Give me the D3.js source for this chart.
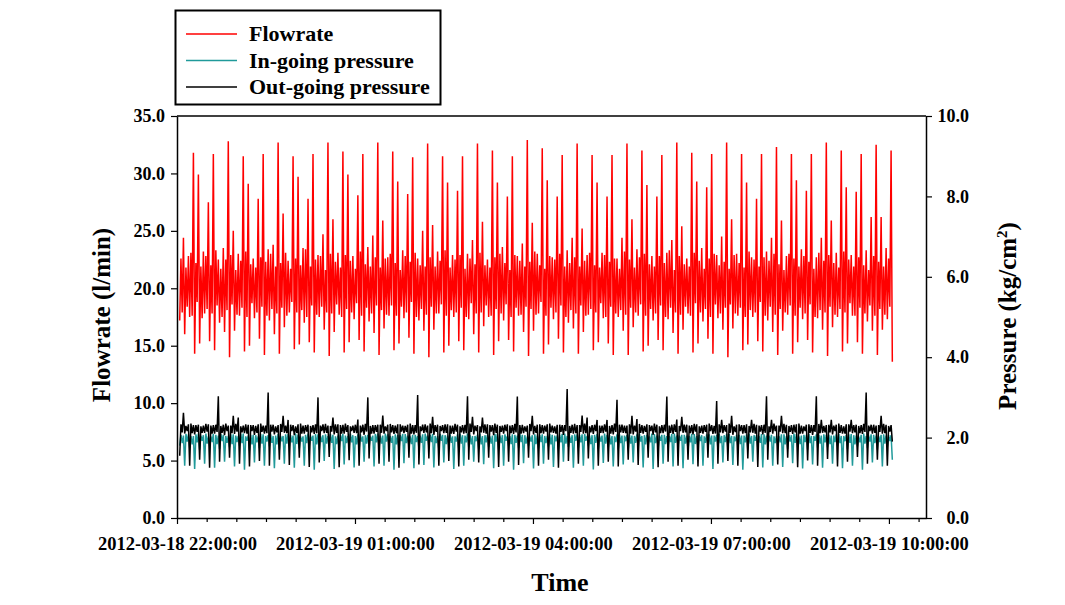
<!DOCTYPE html>
<html><head><meta charset="utf-8">
<script src="https://cdn.jsdelivr.net/npm/d3@7"></script>
<style>body{margin:0;background:#fff}svg{display:block}</style>
</head><body>
<svg id="chart" width="1065" height="605"></svg>
<script>
// ---------------- data ----------------
const startTime = "2012-03-18 22:02:44";
const stepSeconds = 75.6;
const xDomain = ["2012-03-18 22:00:00", "2012-03-19 10:37:30"];
const xTickLabels = ["2012-03-18 22:00:00", "2012-03-19 01:00:00", "2012-03-19 04:00:00", "2012-03-19 07:00:00", "2012-03-19 10:00:00"];
const flowTicks = [0, 5, 10, 15, 20, 25, 30, 35];
const pressureTicks = [0, 2, 4, 6, 8, 10];
const seriesNames = ["Flowrate", "In-going pressure", "Out-going pressure"];
const seriesColors = ["#ff0000", "#209a9a", "#000000"];

// pulse samples (low, peak, low, peak, ...)
const flowrate = [
  17.2,24.4,16.0,22.8,17.5,31.8,14.3,29.9,15.2,23.2,17.8,27.5,15.4,31.7,14.6,22.5,17.0,23.5,16.2,32.8,
  14.0,25.0,16.3,23.0,17.6,31.5,14.5,29.1,15.0,22.6,17.4,27.8,15.6,31.7,14.2,23.4,17.2,23.8,16.0,32.7,
  14.3,26.5,16.6,22.4,17.9,31.5,14.7,29.7,15.1,23.5,17.0,27.8,15.3,31.7,14.4,22.9,17.5,24.7,16.4,32.7,
  14.1,26.0,16.2,23.1,17.7,31.9,14.4,29.9,15.3,22.8,17.3,28.1,15.5,31.7,14.5,23.6,17.1,24.6,16.1,32.7,
  14.2,25.9,16.5,22.7,17.6,31.9,14.6,29.3,15.2,23.3,17.4,28.2,15.7,31.4,14.3,22.6,17.2,25.0,16.3,32.6,
  14.0,25.5,16.4,23.2,17.8,31.5,14.4,29.2,15.0,22.9,17.5,28.5,15.4,31.5,14.6,23.0,17.3,24.2,16.0,32.6,
  14.4,25.8,16.7,22.5,17.5,32.0,14.2,29.2,15.4,23.6,17.2,28.0,15.5,31.5,14.5,22.8,17.6,23.9,16.2,32.9,
  14.1,25.7,16.3,23.0,17.8,32.2,14.3,29.4,15.1,22.7,17.3,28.0,15.6,31.6,14.4,23.3,17.0,24.4,16.5,32.6,
  14.3,25.2,16.2,22.9,17.7,31.6,14.6,29.2,15.3,23.1,17.4,28.0,15.2,31.6,14.2,22.6,17.5,24.4,16.3,32.6,
  14.2,26.0,16.6,23.4,17.6,32.0,14.5,29.0,15.0,22.8,17.2,28.0,15.5,31.6,14.6,23.1,17.3,24.2,16.1,32.7,
  14.3,25.4,16.4,22.6,17.8,31.8,14.4,29.3,15.2,23.5,17.1,28.8,15.6,31.7,14.3,22.9,17.4,24.5,16.4,32.7,
  14.0,26.0,16.5,23.0,17.6,31.7,14.6,29.2,15.1,22.7,17.5,27.8,15.4,31.7,14.5,23.2,17.2,24.4,16.2,32.3,
  14.2,25.9,16.3,22.8,17.7,31.7,14.3,29.4,15.3,23.4,17.3,28.5,15.5,31.7,14.4,22.7,17.4,24.4,16.4,32.7,
  14.1,25.9,16.6,23.1,17.5,32.0,14.5,28.8,15.2,22.9,17.6,28.4,15.3,31.7,14.3,23.3,17.1,26.2,16.3,32.5,
  14.2,26.2,16.4,23.5,17.3,32.0,13.6
];
// in-between samples (two per pulse) forming the dense band
const flowBand = [
  22.6,17.9,21.8,18.4,23.1,17.6,22.2,18.8,21.9,17.4,22.8,18.2,22.0,17.8,23.3,18.5,21.7,17.5,22.5,18.1,
  22.9,18.6,21.6,17.7,22.4,18.3,23.2,17.5,22.1,18.7,21.8,17.9,22.7,18.4,22.3,17.6,23.0,18.2,21.9,17.8,
  22.2,18.3,23.1,17.6,21.7,18.8,22.6,17.9,22.0,18.1,23.4,17.5,21.9,18.5,22.5,17.7,22.8,18.4,21.6,17.9,
  23.0,17.8,22.3,18.6,21.8,17.5,22.9,18.2,22.4,17.9,21.7,18.7,23.2,17.6,22.1,18.3,21.9,17.8,22.7,18.5,
  21.8,18.1,22.6,17.7,23.0,18.5,22.2,17.6,21.6,18.4,22.8,17.9,22.3,18.8,23.1,17.5,22.0,18.2,21.9,17.7,
  22.7,18.4,21.9,17.8,22.4,18.6,23.3,17.6,21.8,18.1,22.5,17.9,22.9,18.3,21.7,17.5,22.6,18.7,22.1,17.8,
  23.1,17.9,22.0,18.5,21.8,17.6,22.7,18.2,23.0,17.8,22.2,18.6,21.6,17.5,22.9,18.3,22.4,17.7,21.9,18.4,
  22.3,18.2,23.2,17.7,22.0,18.8,21.7,17.6,22.8,18.3,22.5,17.9,23.0,18.5,21.9,17.5,22.2,18.1,22.7,17.8,
  21.9,18.5,22.4,17.6,23.1,18.2,22.0,17.9,21.8,18.7,22.9,17.5,22.3,18.4,22.6,17.8,21.7,18.1,23.2,17.7,
  22.5,18.3,21.8,17.9,22.7,18.6,23.0,17.6,22.1,18.2,21.9,17.8,22.8,18.5,22.2,17.5,23.3,18.3,21.6,17.9,
  22.8,17.7,22.1,18.4,21.9,17.6,23.1,18.7,22.4,17.9,21.7,18.2,22.6,17.5,23.0,18.6,22.0,17.8,22.3,18.3,
  21.7,18.6,22.9,17.8,22.2,18.3,21.8,17.5,23.2,18.1,22.5,17.9,21.9,18.8,22.7,17.6,22.4,18.4,23.0,17.7,
  22.1,18.2,21.6,17.9,23.0,18.5,22.6,17.6,21.9,18.3,22.8,17.8,22.3,18.6,21.7,17.5,23.1,18.1,22.4,17.9,
  22.9,18.4,22.2,17.7,21.8,18.2,23.2,17.9,22.5,18.7,21.9,17.6,22.7,18.3,22.0,17.8,21.6,18.5,22.8,17.6,
  22.3,18.2,21.9,17.7,22.6,18.4
];

const inPressure = [
  1.80,2.05,1.30,2.08,1.75,2.04,1.22,2.10,1.70,2.06,1.35,2.03,1.80,2.09,1.25,2.05,1.72,2.07,1.40,2.04,
  1.76,2.08,1.28,2.04,1.80,2.10,1.20,2.05,1.68,2.07,1.38,2.03,1.74,2.08,1.30,2.06,1.78,2.04,1.24,2.09,
  1.70,2.04,1.35,2.09,1.78,2.05,1.25,2.07,1.73,2.03,1.30,2.10,1.80,2.05,1.20,2.08,1.70,2.06,1.42,2.04,
  1.80,2.07,1.22,2.05,1.72,2.09,1.33,2.04,1.77,2.06,1.26,2.08,1.70,2.03,1.40,2.07,1.75,2.05,1.28,2.10,
  1.74,2.05,1.30,2.08,1.80,2.04,1.20,2.06,1.70,2.09,1.36,2.05,1.78,2.07,1.24,2.04,1.73,2.08,1.32,2.05,
  1.78,2.09,1.26,2.04,1.70,2.07,1.38,2.05,1.80,2.03,1.22,2.08,1.72,2.06,1.30,2.10,1.76,2.04,1.40,2.07,
  1.72,2.04,1.34,2.07,1.77,2.05,1.24,2.09,1.70,2.06,1.30,2.04,1.80,2.08,1.20,2.05,1.74,2.07,1.36,2.03,
  1.80,2.06,1.23,2.05,1.73,2.08,1.35,2.04,1.78,2.07,1.27,2.05,1.70,2.09,1.40,2.04,1.77,2.06,1.25,2.08,
  1.75,2.08,1.30,2.04,1.80,2.06,1.21,2.09,1.72,2.05,1.37,2.07,1.76,2.04,1.28,2.08,1.70,2.05,1.33,2.06,
  1.70,2.05,1.38,2.08,1.76,2.04,1.26,2.07,1.80,2.10,1.22,2.05,1.73,2.07,1.35,2.04,1.78,2.09,1.28,2.05,
  1.78,2.07,1.24,2.05,1.70,2.09,1.34,2.04,1.75,2.06,1.30,2.08,1.80,2.05,1.22,2.07,1.72,2.04,1.38,2.09,
  1.73,2.04,1.32,2.07,1.78,2.05,1.20,2.08,1.70,2.04,1.40,2.06,1.75,2.09,1.26,2.05,1.80,2.07,1.30,2.04,
  1.80,2.08,1.27,2.04,1.72,2.06,1.36,2.09,1.77,2.05,1.23,2.07,1.70,2.04,1.33,2.08,1.75,2.05,1.25,2.07,
  1.76,2.05,1.35,2.08,1.80,2.04,1.24,2.06,1.71,2.09,1.30,2.05,1.78,2.07,1.20,2.04,1.74,2.08,1.38,2.05,
  1.70,2.07,1.28,2.05,1.78,2.06,1.45
];
const inBand = [
  2.06,1.86,2.09,1.90,2.04,1.83,2.08,1.88,2.05,1.92,2.10,1.85,2.03,1.89,2.07,1.84,2.09,1.91,2.04,1.87,
  2.08,1.84,2.05,1.89,2.10,1.86,2.03,1.92,2.07,1.83,2.06,1.88,2.09,1.85,2.04,1.90,2.08,1.87,2.05,1.83,
  2.04,1.91,2.08,1.85,2.06,1.88,2.10,1.84,2.03,1.90,2.07,1.86,2.05,1.92,2.09,1.83,2.04,1.89,2.08,1.85,
  2.09,1.87,2.03,1.84,2.07,1.91,2.05,1.86,2.10,1.88,2.04,1.83,2.08,1.90,2.06,1.85,2.03,1.92,2.09,1.88,
  2.05,1.85,2.10,1.90,2.04,1.87,2.08,1.83,2.06,1.91,2.09,1.86,2.03,1.84,2.07,1.89,2.05,1.87,2.10,1.92,
  2.07,1.89,2.04,1.86,2.09,1.92,2.06,1.84,2.08,1.87,2.03,1.90,2.10,1.85,2.05,1.88,2.07,1.83,2.04,1.91,
  2.10,1.83,2.06,1.88,2.03,1.85,2.09,1.90,2.05,1.86,2.08,1.92,2.04,1.84,2.07,1.87,2.10,1.89,2.06,1.85,
  2.03,1.90,2.08,1.84,2.06,1.89,2.04,1.86,2.09,1.83,2.05,1.91,2.07,1.88,2.10,1.85,2.03,1.87,2.08,1.92,
  2.06,1.88,2.09,1.92,2.05,1.84,2.07,1.87,2.04,1.90,2.10,1.85,2.06,1.83,2.03,1.89,2.08,1.86,2.05,1.91,
  2.08,1.85,2.04,1.87,2.10,1.90,2.06,1.83,2.03,1.88,2.09,1.86,2.05,1.92,2.07,1.84,2.04,1.89,2.10,1.87,
  2.05,1.92,2.07,1.85,2.04,1.88,2.09,1.84,2.06,1.91,2.03,1.87,2.08,1.83,2.05,1.90,2.10,1.86,2.06,1.89,
  2.09,1.86,2.03,1.91,2.07,1.84,2.05,1.88,2.10,1.85,2.06,1.92,2.04,1.87,2.08,1.83,2.05,1.90,2.03,1.86,
  2.04,1.88,2.08,1.83,2.06,1.90,2.10,1.87,2.03,1.84,2.07,1.89,2.09,1.86,2.04,1.92,2.06,1.85,2.08,1.88,
  2.07,1.84,2.05,1.89,2.09,1.86,2.04,1.91,2.08,1.87,2.06,1.83,2.03,1.88,2.10,1.85,2.05,1.90,2.07,1.86,
  2.04,1.89,2.08,1.85,2.06,1.91
];

const outPressure = [
  1.55,2.62,2.10,2.33,1.30,2.31,2.08,2.32,1.45,2.30,2.12,2.33,1.25,2.31,2.10,3.03,1.40,2.32,2.06,2.30,
  1.50,2.54,2.09,2.50,1.35,2.30,2.11,2.32,1.28,2.31,2.07,2.33,1.42,2.30,2.10,3.12,1.30,2.32,2.08,2.31,
  1.45,2.54,2.12,2.44,1.32,2.31,2.06,2.33,1.50,2.30,2.10,2.32,1.27,2.31,2.09,3.00,1.38,2.33,2.11,2.30,
  1.52,2.50,2.08,2.33,1.26,2.32,2.10,2.31,1.44,2.30,2.12,2.45,1.30,2.32,2.07,3.00,1.48,2.31,2.10,2.32,
  1.35,2.55,2.10,2.32,1.40,2.31,2.09,2.33,1.25,2.30,2.11,2.32,1.50,2.31,2.08,3.06,1.33,2.32,2.12,2.30,
  1.48,2.52,2.07,2.32,1.30,2.31,2.11,2.33,1.42,2.30,2.09,2.32,1.28,2.31,2.10,3.03,1.45,2.52,2.08,2.31,
  1.38,2.50,2.12,2.33,1.50,2.31,2.06,2.32,1.27,2.30,2.10,2.33,1.40,2.31,2.09,3.02,1.32,2.32,2.11,2.30,
  1.50,2.54,2.08,2.32,1.30,2.31,2.10,2.33,1.45,2.30,2.12,2.32,1.25,2.31,2.07,3.21,1.42,2.32,2.10,2.31,
  1.35,2.55,2.10,2.50,1.48,2.31,2.09,2.44,1.30,2.30,2.11,2.44,1.40,2.31,2.08,2.94,1.28,2.32,2.12,2.30,
  1.45,2.54,2.08,2.46,1.32,2.31,2.10,2.33,1.50,2.30,2.07,2.32,1.26,2.31,2.11,3.02,1.40,2.32,2.09,2.45,
  1.30,2.52,2.12,2.32,1.45,2.31,2.08,2.33,1.28,2.30,2.10,2.32,1.50,2.31,2.09,2.91,1.35,2.44,2.11,2.31,
  1.42,2.54,2.07,2.32,1.30,2.31,2.10,2.33,1.48,2.44,2.12,2.32,1.27,2.31,2.08,3.03,1.45,2.44,2.10,2.30,
  1.33,2.54,2.11,2.32,1.50,2.31,2.09,2.33,1.26,2.30,2.10,2.32,1.43,2.31,2.07,3.03,1.30,2.44,2.12,2.31,
  1.47,2.44,2.08,2.32,1.28,2.31,2.10,2.33,1.40,2.44,2.11,2.32,1.52,2.31,2.09,3.12,1.35,2.32,2.10,2.30,
  1.45,2.54,2.10,2.32,1.30,2.31,1.90
];
const outBand = [
  2.33,2.13,2.29,2.16,2.35,2.11,2.31,2.14,2.28,2.12,2.34,2.15,2.30,2.10,2.32,2.14,2.29,2.12,2.35,2.16,
  2.30,2.11,2.34,2.15,2.28,2.13,2.33,2.10,2.31,2.16,2.29,2.12,2.35,2.14,2.30,2.11,2.32,2.15,2.28,2.13,
  2.34,2.14,2.30,2.11,2.32,2.16,2.28,2.12,2.35,2.10,2.31,2.15,2.29,2.13,2.33,2.11,2.30,2.16,2.34,2.12,
  2.29,2.15,2.33,2.12,2.31,2.10,2.35,2.14,2.28,2.16,2.32,2.11,2.30,2.13,2.34,2.15,2.29,2.10,2.31,2.14,
  2.32,2.12,2.28,2.16,2.34,2.13,2.30,2.11,2.33,2.15,2.29,2.14,2.35,2.10,2.31,2.12,2.28,2.16,2.33,2.13,
  2.35,2.11,2.31,2.14,2.29,2.16,2.33,2.12,2.30,2.10,2.34,2.15,2.28,2.13,2.32,2.11,2.35,2.14,2.30,2.16,
  2.28,2.13,2.33,2.10,2.31,2.15,2.35,2.12,2.29,2.14,2.32,2.16,2.30,2.11,2.34,2.13,2.31,2.10,2.28,2.15,
  2.34,2.16,2.29,2.12,2.33,2.11,2.30,2.15,2.35,2.13,2.28,2.10,2.32,2.14,2.31,2.16,2.29,2.12,2.34,2.11,
  2.31,2.14,2.35,2.11,2.28,2.13,2.32,2.16,2.30,2.12,2.33,2.15,2.29,2.10,2.35,2.14,2.32,2.13,2.30,2.11,
  2.33,2.10,2.30,2.15,2.34,2.12,2.29,2.14,2.31,2.16,2.35,2.13,2.28,2.11,2.32,2.15,2.30,2.12,2.33,2.14,
  2.29,2.16,2.32,2.13,2.30,2.11,2.34,2.15,2.28,2.12,2.31,2.14,2.35,2.16,2.29,2.10,2.33,2.13,2.31,2.15,
  2.35,2.12,2.28,2.14,2.33,2.16,2.31,2.11,2.29,2.13,2.34,2.10,2.30,2.15,2.32,2.12,2.28,2.14,2.35,2.16,
  2.30,2.15,2.34,2.11,2.29,2.14,2.32,2.13,2.35,2.10,2.28,2.16,2.33,2.12,2.31,2.14,2.34,2.11,2.29,2.13,
  2.32,2.13,2.30,2.16,2.35,2.12,2.28,2.10,2.33,2.15,2.31,2.13,2.29,2.11,2.34,2.14,2.30,2.16,2.32,2.12,
  2.31,2.14,2.34,2.11,2.29,2.15
];

// ---------------- chart ----------------
const parse = d3.timeParse("%Y-%m-%d %H:%M:%S");
const fmt = d3.timeFormat("%Y-%m-%d %H:%M:%S");
const t0 = parse(startTime);

// merge: low, band-high, band-low, peak for each pulse
function mergeSeries(pulse, band) {
  const out = [];
  const n = Math.floor(pulse.length / 2);
  for (let i = 0; i < n; i++) {
    out.push(pulse[2 * i], band[2 * i], band[2 * i + 1], pulse[2 * i + 1]);
  }
  for (let k = 2 * n; k < pulse.length; k++) out.push(pulse[k]);
  return out.map((v, i) => ({t: new Date(t0.getTime() + i * stepSeconds * 1000), v}));
}

const plotL = 177, plotR = 926, plotT = 116, plotB = 518;
const FONT = "'Liberation Serif','Times New Roman',serif";

const x = d3.scaleTime().domain(xDomain.map(parse)).range([plotL, plotR]);
const yFlow = d3.scaleLinear().domain([0, 35]).range([plotB, plotT]);
const yP = d3.scaleLinear().domain([0, 10]).range([plotB, plotT]);

const svg = d3.select("#chart");
svg.append("rect").attr("width", 1065).attr("height", 605).attr("fill", "#fff");

function drawSeries(pts, scale, color) {
  svg.append("path").datum(pts)
    .attr("fill", "none").attr("stroke", color).attr("stroke-width", 1.5)
    .attr("stroke-linejoin", "miter").attr("stroke-miterlimit", 2)
    .attr("d", d3.line().x(d => x(d.t)).y(d => scale(d.v)));
}
drawSeries(mergeSeries(flowrate, flowBand), yFlow, seriesColors[0]);
drawSeries(mergeSeries(inPressure, inBand), yP, seriesColors[1]);
drawSeries(mergeSeries(outPressure, outBand), yP, seriesColors[2]);

// frame top line
svg.append("line").attr("x1", plotL).attr("x2", plotR).attr("y1", plotT).attr("y2", plotT)
  .attr("stroke", "#000").attr("stroke-width", 1.5);

function styleAxis(g, size) {
  g.select(".domain").attr("stroke", "#000").attr("stroke-width", 1.5);
  g.selectAll(".tick line").attr("stroke", "#000").attr("stroke-width", 1.2);
  g.selectAll("text").attr("font-family", FONT).attr("font-weight", "bold")
    .attr("font-size", size).attr("fill", "#000");
}

// left axis
const gL = svg.append("g").attr("transform", `translate(${plotL},0)`)
  .call(d3.axisLeft(yFlow).tickValues(flowTicks).tickSize(6).tickSizeOuter(0)
    .tickPadding(6).tickFormat(d3.format(".1f")));
styleAxis(gL, 18);

// right axis
const gR = svg.append("g").attr("transform", `translate(${plotR},0)`)
  .call(d3.axisRight(yP).tickValues(pressureTicks).tickSize(6).tickSizeOuter(0)
    .tickFormat(d3.format(".1f")));
styleAxis(gR, 18);
gR.selectAll("text").attr("x", 43).attr("text-anchor", "end");

// bottom axis
const majorSet = new Set(xTickLabels.map(s => parse(s).getTime()));
const xTicks = d3.timeMinute.every(30).range(parse(xDomain[0]), new Date(parse(xDomain[1]).getTime() + 1));
const gB = svg.append("g").attr("transform", `translate(0,${plotB})`)
  .call(d3.axisBottom(x).tickValues(xTicks).tickSize(4).tickSizeOuter(0)
    .tickFormat(d => majorSet.has(d.getTime()) ? fmt(d) : ""));
styleAxis(gB, 18.5);
gB.selectAll(".tick").filter(d => majorSet.has(d.getTime())).select("line").attr("y2", 6);
gB.selectAll("text").attr("y", 19);

// axis titles
svg.append("text").attr("transform", "translate(110,315) rotate(-90)")
  .attr("text-anchor", "middle").attr("font-family", FONT).attr("font-weight", "bold")
  .attr("font-size", 25).text("Flowrate (l/min)");

const rt = svg.append("text").attr("transform", "translate(1016,316) rotate(-90)")
  .attr("text-anchor", "middle").attr("font-family", FONT).attr("font-weight", "bold")
  .attr("font-size", 25);
rt.append("tspan").text("Pressure (kg/cm");
rt.append("tspan").attr("dy", -9).attr("font-size", 15).text("2");
rt.append("tspan").attr("dy", 9).text(")");

svg.append("text").attr("x", 560).attr("y", 591).attr("text-anchor", "middle")
  .attr("font-family", FONT).attr("font-weight", "bold").attr("font-size", 26).text("Time");

// legend
const lg = svg.append("g");
lg.append("rect").attr("x", 175.5).attr("y", 10.5).attr("width", 265).attr("height", 94)
  .attr("fill", "#fff").attr("stroke", "#000").attr("stroke-width", 2);
seriesNames.forEach((name, i) => {
  const yy = 34 + i * 26.5;
  lg.append("line").attr("x1", 186).attr("x2", 237).attr("y1", yy).attr("y2", yy)
    .attr("stroke", seriesColors[i]).attr("stroke-width", 1.3);
  lg.append("text").attr("x", 249).attr("y", yy + 7).attr("font-family", FONT)
    .attr("font-weight", "bold").attr("font-size", 22).text(name);
});
</script>
</body></html>
